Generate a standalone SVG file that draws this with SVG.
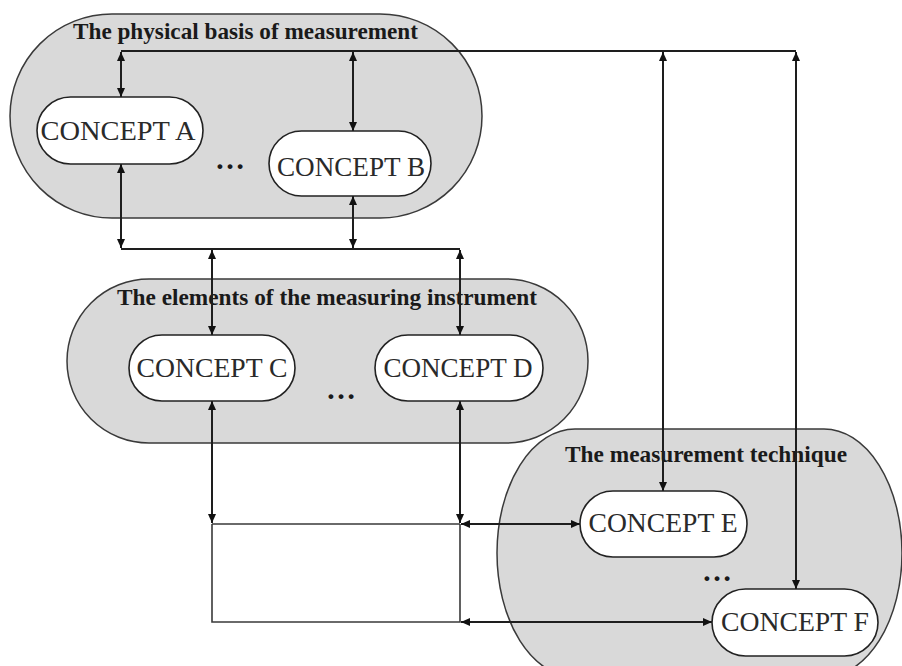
<svg xmlns="http://www.w3.org/2000/svg" width="902" height="666" viewBox="0 0 902 666">
<style>
.grp{fill:#d9d9d9;stroke:#3a3a3a;stroke-width:1.5}
.con{fill:#ffffff;stroke:#222;stroke-width:1.6}
.title{font-family:"Liberation Serif","Times New Roman",serif;font-weight:bold;font-size:23px;fill:#1a1a1a;text-anchor:middle}
.lbl{font-family:"Liberation Serif","Times New Roman",serif;font-size:27px;fill:#2a2a2a;text-anchor:middle}
.dots{font-family:"Liberation Serif","Times New Roman",serif;font-weight:bold;font-size:30px;fill:#1a1a1a;text-anchor:middle}
.ln{fill:none;stroke:#1e1e1e;stroke-width:2}
.ln2{fill:none;stroke:#3a3a3a;stroke-width:1.6}
.ln3{fill:none;stroke:#6a6a6a;stroke-width:1.8}
.arr{fill:none;stroke:#1e1e1e;stroke-width:2;marker-start:url(#ah);marker-end:url(#ah)}
</style>
<defs>
<marker id="ah" markerUnits="userSpaceOnUse" markerWidth="10" markerHeight="8" refX="9" refY="4" orient="auto-start-reverse">
<path d="M0,0 L9,4 L0,8 z" fill="#111"/>
</marker>
</defs>
<rect width="902" height="666" fill="#ffffff"/>

<g id="group-physical">
<rect class="grp" x="10" y="14" width="472" height="204" rx="102" ry="102"/>
<text class="title" x="245.5" y="39" textLength="345" lengthAdjust="spacingAndGlyphs">The physical basis of measurement</text>
<text class="dots" x="230" y="169">…</text>
</g>
<g id="group-elements">
<rect class="grp" x="67" y="279" width="521" height="164" rx="82" ry="82"/>
<text class="title" x="327" y="305" textLength="420" lengthAdjust="spacingAndGlyphs">The elements of the measuring instrument</text>
<text class="dots" x="341" y="399">…</text>
</g>
<g id="group-technique">
<rect class="grp" x="497" y="429" width="405" height="248" rx="78" ry="124"/>
<text class="title" x="706" y="462" textLength="282" lengthAdjust="spacingAndGlyphs">The measurement technique</text>
<text class="dots" x="717" y="581">…</text>
</g>

<g id="connectors">
<polyline class="ln" points="121,51 796,51"/>
<polyline class="ln" points="121,249 460,249"/>
<polyline class="ln3" points="212,524 460,524"/>
<polyline class="ln2" points="212,524 212,622 460,622 460,524"/>
<line class="arr" x1="121" y1="52" x2="121" y2="97"/>
<line class="arr" x1="353" y1="52" x2="353" y2="131"/>
<line class="arr" x1="663" y1="52" x2="663" y2="491"/>
<line class="arr" x1="796" y1="52" x2="796" y2="589"/>
<line class="arr" x1="121" y1="164" x2="121" y2="248"/>
<line class="arr" x1="353" y1="196" x2="353" y2="248"/>
<line class="arr" x1="212" y1="250" x2="212" y2="335"/>
<line class="arr" x1="460" y1="250" x2="460" y2="335"/>
<line class="arr" x1="212" y1="401" x2="212" y2="523"/>
<line class="arr" x1="460" y1="401" x2="460" y2="523"/>
<line class="arr" x1="461" y1="524" x2="580" y2="524"/>
<line class="arr" x1="461" y1="622" x2="712" y2="622"/>
</g>

<g id="concept-a">
<rect class="con" x="37" y="97" width="166" height="67" rx="33.5"/>
<text class="lbl" x="118" y="140" textLength="155" lengthAdjust="spacingAndGlyphs">CONCEPT A</text>
</g>
<g id="concept-b">
<rect class="con" x="269" y="131" width="162" height="65" rx="32.5"/>
<text class="lbl" x="351" y="176" textLength="148" lengthAdjust="spacingAndGlyphs">CONCEPT B</text>
</g>
<g id="concept-c">
<rect class="con" x="129" y="335" width="166" height="66" rx="33"/>
<text class="lbl" x="212" y="377" textLength="151" lengthAdjust="spacingAndGlyphs">CONCEPT C</text>
</g>
<g id="concept-d">
<rect class="con" x="375" y="335" width="168" height="66" rx="33"/>
<text class="lbl" x="458" y="377" textLength="149" lengthAdjust="spacingAndGlyphs">CONCEPT D</text>
</g>
<g id="concept-e">
<rect class="con" x="580" y="491" width="167" height="66" rx="33"/>
<text class="lbl" x="663" y="532" textLength="149" lengthAdjust="spacingAndGlyphs">CONCEPT E</text>
</g>
<g id="concept-f">
<rect class="con" x="712" y="589" width="166" height="67" rx="33.5"/>
<text class="lbl" x="795" y="631" textLength="148" lengthAdjust="spacingAndGlyphs">CONCEPT F</text>
</g>
</svg>
